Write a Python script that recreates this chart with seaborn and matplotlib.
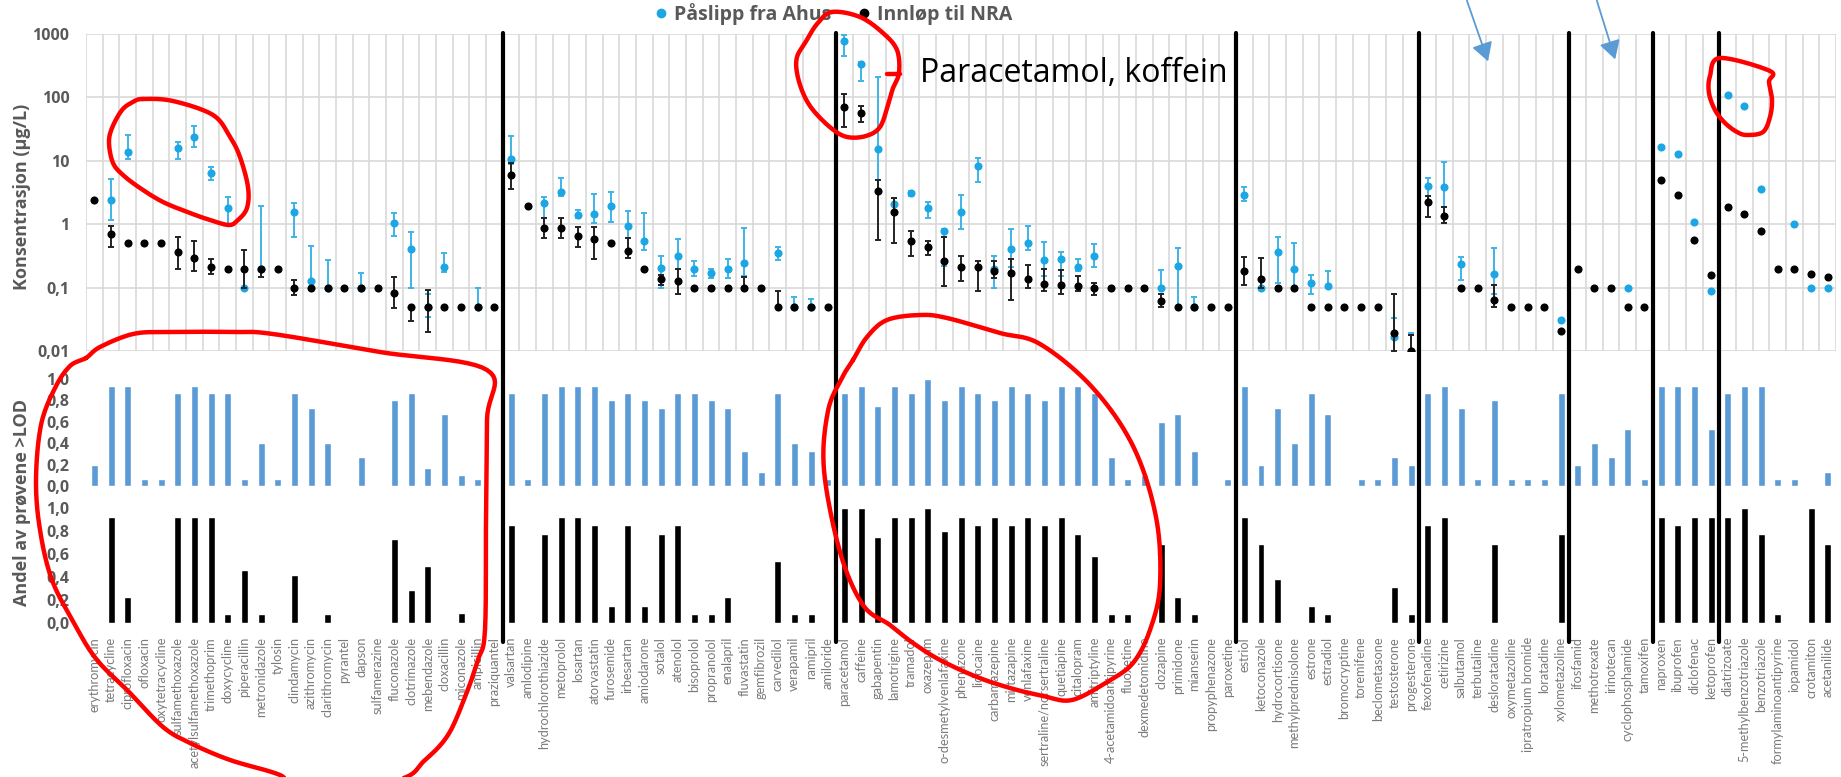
import numpy as np
import matplotlib
matplotlib.use("Agg")
import matplotlib.pyplot as plt
import seaborn as sns
from matplotlib.lines import Line2D
from matplotlib.transforms import blended_transform_factory

nan = np.nan

compounds = [
    "erythromycin", "tetracycline", "ciprofloxacin", "ofloxacin", "oxytetracycline",
    "sulfamethoxazole", "acetylsulfamethoxazole", "trimethoprim", "doxycycline", "piperacillin",
    "metronidazole", "tylosin", "clindamycin", "azithromycin", "clarithromycin", "pyrantel",
    "dapson", "sulfamerazine", "fluconazole", "clotrimazole", "mebendazole", "cloxacillin",
    "miconazole", "ampicillin", "praziquantel",
    "valsartan", "amlodipine", "hydrochlorothiazide", "metoprolol", "losartan", "atorvastatin",
    "furosemide", "irbesartan", "amiodarone", "sotalol", "atenolol", "bisoprolol", "propranolol",
    "enalapril", "fluvastatin", "gemfibrozil", "carvedilol", "verapamil", "ramipril", "amiloride",
    "paracetamol", "caffeine", "gabapentin", "lamotrigine", "tramadol", "oxazepam",
    "o-desmetylvenlafaxine", "phenazone", "lidocaine", "carbamazepine", "mirtazapine",
    "venlafaxine", "sertraline/norsertraline", "quetiapine", "citalopram", "amitriptyline",
    "4-acetamidoantipyrine", "fluoxetine", "dexmedetomidine", "clozapine", "primidone",
    "mianserin", "propyphenazone", "paroxetine",
    "estriol", "ketoconazole", "hydrocortisone", "methylprednisolone", "estrone", "estradiol",
    "bromocryptine", "toremifene", "beclometasone", "testosterone", "progesterone",
    "fexofenadine", "cetirizine", "salbutamol", "terbutaline", "desloratadine", "oxymetazoline",
    "ipratropium bromide", "loratadine", "xylometazoline",
    "ifosfamid", "methotrexate", "irinotecan", "cyclophosphamide", "tamoxifen",
    "naproxen", "ibuprofen", "diclofenac", "ketoprofen",
    "diatrizoate", "5-methylbenzotriazole", "benzotriazole", "formylaminoantipyrine",
    "iopamidol", "crotamiton", "acetanilide",
]
group_sizes = [25, 20, 24, 11, 9, 5, 4, 7]

# Påslipp fra Ahus: concentration (µg/L), lower and upper error limits
ahus_conc = [
    nan, 2.4, 13.7, nan, nan, 15.7, 23.9, 6.4, 1.77, 0.1,
    0.2, nan, 1.57, 0.127, 0.1, nan, 0.1, nan, 1.06, 0.41,
    0.05, 0.215, nan, 0.05, nan,
    10.6, nan, 2.15, 3.24, 1.39, 1.47, 1.97, 0.93, 0.54, 0.205,
    0.31, 0.197, 0.168, 0.197, 0.24, nan, 0.357, 0.05, 0.05, nan,
    766, 336, 15.5, 2.07, 3.05, 1.77, 0.77, 1.57, 8.24, 0.2,
    0.41, 0.51, 0.27, 0.28, 0.215, 0.31, nan, nan, nan, 0.1,
    0.222, 0.05, nan, nan,
    2.9, 0.1, 0.36, 0.197, 0.117, 0.107, nan, nan, nan, 0.0164, 0.01,
    3.94, 3.9, 0.233, nan, 0.164, nan, nan, nan, 0.031,
    nan, nan, nan, 0.1, nan,
    16.8, 12.7, 1.08, 0.09,
    109, 72, 3.57, nan, 0.99, 0.1, 0.1,
]
ahus_lo = [
    nan, 1.17, 10.8, nan, nan, 10.8, 16.6, 4.95, 1.0, nan,
    nan, nan, 0.62, nan, nan, nan, nan, nan, 0.65, 0.1,
    0.035, 0.175, nan, nan, nan,
    9.0, nan, 1.27, 2.74, 1.24, 1.06, 1.07, 0.6, 0.39, 0.1,
    0.2, 0.15, 0.14, 0.14, 0.15, nan, 0.27, nan, nan, nan,
    455, 179, 3.3, 1.57, 2.8, 1.27, 0.22, 0.83, 4.6, 0.1,
    0.215, 0.39, 0.15, 0.15, 0.18, 0.215, nan, nan, nan, nan,
    0.05, nan, nan, nan,
    2.3, nan, 0.12, 0.1, 0.08, nan, nan, nan, nan, nan, nan,
    2.2, 1.9, 0.13, nan, 0.08, nan, nan, nan, nan,
    nan, nan, nan, nan, nan,
    nan, nan, nan, nan,
    nan, nan, nan, nan, nan, nan, nan,
]
ahus_hi = [
    nan, 5.2, 25.8, nan, nan, 20.0, 35.7, 7.85, 2.64, nan,
    1.97, nan, 2.15, 0.46, 0.27, nan, 0.168, nan, 1.49, 0.75,
    0.08, 0.35, nan, 0.1, nan,
    24.2, nan, 2.64, 5.45, 1.69, 2.98, 3.2, 1.6, 1.49, 0.32,
    0.58, 0.26, 0.2, 0.28, 0.86, nan, 0.44, 0.07, 0.066, nan,
    980, 361, 209, 2.6, 3.3, 2.2, 0.83, 2.9, 10.9, 0.31,
    0.83, 0.95, 0.52, 0.37, 0.28, 0.48, nan, nan, nan, 0.19,
    0.42, 0.07, nan, nan,
    3.9, nan, 0.63, 0.5, 0.16, 0.18, nan, nan, nan, 0.033, 0.019,
    5.3, 9.6, 0.3, nan, 0.42, nan, nan, nan, nan,
    nan, nan, nan, nan, nan,
    nan, nan, nan, nan,
    nan, nan, nan, nan, nan, nan, nan,
]

# Innløp til NRA: concentration (µg/L), lower and upper error limits
nra_conc = [
    2.42, 0.70, 0.5, 0.5, 0.5, 0.37, 0.29, 0.21, 0.2, 0.2,
    0.2, 0.2, 0.1, 0.1, 0.1, 0.1, 0.1, 0.1, 0.081, 0.05,
    0.05, 0.05, 0.05, 0.05, 0.05,
    5.87, 1.97, 0.865, 0.86, 0.66, 0.59, 0.5, 0.38, 0.2, 0.136,
    0.126, 0.1, 0.1, 0.1, 0.1, 0.1, 0.05, 0.05, 0.05, 0.05,
    69.5, 56.6, 3.28, 1.57, 0.54, 0.43, 0.26, 0.215, 0.21, 0.18,
    0.168, 0.139, 0.116, 0.11, 0.107, 0.1, 0.1, 0.1, 0.1, 0.062,
    0.05, 0.05, 0.05, 0.05,
    0.18, 0.139, 0.1, 0.1, 0.05, 0.05, 0.05, 0.05, 0.05, 0.0195, 0.01,
    2.2, 1.37, 0.1, 0.1, 0.064, 0.05, 0.05, 0.05, 0.021,
    0.2, 0.1, 0.1, 0.05, 0.05,
    5.0, 2.94, 0.57, 0.157,
    1.85, 1.47, 0.79, 0.2, 0.2, 0.163, 0.146,
]
nra_lo = [
    nan, 0.44, nan, nan, nan, 0.197, 0.185, 0.164, nan, 0.1,
    0.146, nan, 0.077, nan, nan, nan, nan, nan, 0.048, 0.03,
    0.0197, nan, nan, nan, nan,
    3.6, nan, 0.6, 0.6, 0.44, 0.28, nan, 0.29, nan, 0.11,
    0.08, nan, nan, nan, nan, nan, nan, nan, nan, nan,
    33.6, 40.8, 0.57, 0.51, 0.32, 0.33, 0.107, 0.127, 0.088, 0.14,
    0.064, 0.1, 0.09, 0.08, 0.09, 0.077, nan, nan, nan, 0.05,
    nan, nan, nan, nan,
    0.11, 0.1, nan, nan, nan, nan, nan, nan, nan, 0.01, nan,
    1.3, 1.05, nan, nan, 0.05, nan, nan, nan, nan,
    nan, nan, nan, nan, nan,
    nan, nan, nan, nan,
    nan, nan, nan, nan, nan, nan, nan,
]
nra_hi = [
    nan, 0.95, nan, nan, nan, 0.62, 0.55, 0.28, nan, 0.39,
    nan, nan, 0.13, nan, nan, nan, nan, nan, 0.147, nan,
    0.092, nan, nan, nan, nan,
    9.2, nan, 1.24, 1.27, 0.89, 0.9, nan, 0.6, nan, 0.16,
    0.195, nan, nan, nan, 0.147, nan, 0.087, nan, nan, nan,
    113, 73.8, 5.0, 2.6, 0.77, 0.55, 0.62, 0.32, 0.26, 0.26,
    0.28, 0.23, 0.2, 0.19, 0.15, 0.12, nan, nan, nan, 0.08,
    nan, nan, nan, nan,
    0.3, 0.29, nan, nan, nan, nan, nan, nan, nan, 0.079, 0.018,
    2.8, 1.9, nan, nan, 0.11, nan, nan, nan, nan,
    nan, nan, nan, nan, nan,
    nan, nan, nan, nan,
    nan, nan, nan, nan, nan, nan, nan,
]

# Andel av prøvene > LOD
ahus_lod = [
    0.2, 0.93, 0.93, 0.07, 0.07, 0.87, 0.93, 0.87, 0.87, 0.07,
    0.4, 0.07, 0.87, 0.73, 0.4, 0.0, 0.27, 0.0, 0.8, 0.87,
    0.17, 0.67, 0.1, 0.07, 0.0,
    0.87, 0.07, 0.87, 0.93, 0.93, 0.93, 0.8, 0.87, 0.8, 0.73,
    0.87, 0.87, 0.8, 0.73, 0.33, 0.13, 0.87, 0.4, 0.33, 0.07,
    0.87, 0.93, 0.75, 0.93, 0.87, 1.0, 0.8, 0.93, 0.87, 0.8,
    0.93, 0.87, 0.8, 0.93, 0.93, 0.87, 0.27, 0.07, 0.1, 0.6,
    0.67, 0.33, 0.0, 0.07,
    0.93, 0.2, 0.73, 0.4, 0.87, 0.67, 0.0, 0.07, 0.07, 0.27, 0.2,
    0.87, 0.93, 0.73, 0.07, 0.8, 0.07, 0.07, 0.07, 0.87,
    0.2, 0.4, 0.27, 0.53, 0.07,
    0.93, 0.93, 0.93, 0.53,
    0.87, 0.93, 0.93, 0.07, 0.07, 0.0, 0.13,
]
nra_lod = [
    0.0, 0.92, 0.23, 0.0, 0.0, 0.92, 0.92, 0.92, 0.08, 0.46,
    0.08, 0.0, 0.42, 0.0, 0.08, 0.0, 0.0, 0.0, 0.73, 0.29,
    0.5, 0.0, 0.09, 0.0, 0.0,
    0.85, 0.0, 0.77, 0.92, 0.92, 0.85, 0.15, 0.85, 0.15, 0.77,
    0.85, 0.08, 0.08, 0.23, 0.0, 0.0, 0.54, 0.08, 0.08, 0.0,
    1.0, 1.0, 0.75, 0.92, 0.92, 1.0, 0.8, 0.92, 0.85, 0.92,
    0.85, 0.92, 0.85, 0.92, 0.77, 0.58, 0.08, 0.08, 0.0, 0.69,
    0.23, 0.08, 0.0, 0.0,
    0.92, 0.69, 0.38, 0.0, 0.15, 0.08, 0.0, 0.0, 0.0, 0.31, 0.08,
    0.85, 0.92, 0.0, 0.0, 0.69, 0.0, 0.0, 0.0, 0.77,
    0.0, 0.0, 0.0, 0.0, 0.0,
    0.92, 0.85, 0.92, 0.92,
    0.92, 1.0, 0.77, 0.08, 0.0, 1.0, 0.69,
]

conc_ticks = [0.01, 0.1, 1, 10, 100, 1000]
conc_tick_labels = ["0,01", "0,1", "1", "10", "100", "1000"]
lod_ticks = [0.0, 0.2, 0.4, 0.6, 0.8, 1.0]
lod_tick_labels = ["0,0", "0,2", "0,4", "0,6", "0,8", "1,0"]
series_names = ["Påslipp fra Ahus", "Innløp til NRA"]
note_text = "Paracetamol, koffein"

# ------------------------------------------------------------------ style
sns.set_theme(style="white")
plt.rcParams["font.family"] = ["Open Sans", "DejaVu Sans"]

W, H = 1841, 777
fig = plt.figure(figsize=(W / 100, H / 100), dpi=100)

def fx(px):
    return np.asarray(px) / W

def fy(py):
    return 1 - np.asarray(py) / H

BLUE_PT = "#1CA6E4"
BLUE_BAR = "#5B9BD5"
GRAY = "#595959"
LABEL_GRAY = "#7A7A7A"

left, right = 86, 1836
ax_top = fig.add_axes([fx(left), fy(351), fx(right - left), (351 - 34) / H])
ax_mid = fig.add_axes([fx(left), fy(486), fx(right - left), (486 - 379) / H])
ax_bot = fig.add_axes([fx(left), fy(623), fx(right - left), (623 - 508) / H])

n = len(compounds)
pos = np.arange(n)

def arr(a):
    return np.array(a, dtype=float)

def errs(c, lo, hi):
    c, lo, hi = arr(c), arr(lo), arr(hi)
    lo = np.where(np.isnan(lo), c, lo)
    hi = np.where(np.isnan(hi), c, hi)
    low = np.nan_to_num(c - lo)
    up = np.nan_to_num(hi - c)
    return np.vstack([np.clip(low, 0, None), np.clip(up, 0, None)])

# --------------------------------------------------------------- top panel
ax_top.set_yscale("log")
ax_top.set_ylim(0.01, 1000)
ax_top.set_xlim(-0.5, n - 0.5)

ac = arr(ahus_conc)
nc = arr(nra_conc)
m_a = ~np.isnan(ac)
m_n = ~np.isnan(nc)
ea = errs(ahus_conc, ahus_lo, ahus_hi)
en = errs(nra_conc, nra_lo, nra_hi)

ax_top.errorbar(pos[m_a], ac[m_a], yerr=ea[:, m_a], fmt="none", ecolor="#3DB4E8",
                elinewidth=1.4, capsize=2.5, capthick=1.4, zorder=3)
sns.scatterplot(x=pos[m_a], y=ac[m_a], color=BLUE_PT, s=34, linewidth=0, ax=ax_top,
                zorder=4, legend=False)
ax_top.errorbar(pos[m_n], nc[m_n], yerr=en[:, m_n], fmt="none", ecolor="#222222",
                elinewidth=1.4, capsize=2.5, capthick=1.4, zorder=5)
sns.scatterplot(x=pos[m_n], y=nc[m_n], color="black", s=34, linewidth=0, ax=ax_top,
                zorder=6, legend=False)

ax_top.set_yticks(conc_ticks)
ax_top.set_yticklabels(conc_tick_labels)
ax_top.yaxis.set_minor_locator(matplotlib.ticker.NullLocator())
ax_top.set_xticks(np.arange(-0.5, n, 1.0), minor=True)
ax_top.set_xticks([])
ax_top.grid(True, which="major", axis="y", color="#D9D9D9", lw=1.2)
ax_top.grid(True, which="minor", axis="x", color="#D9D9D9", lw=1.2)
ax_top.tick_params(axis="x", which="both", length=0, labelbottom=False)
for s in ax_top.spines.values():
    s.set_visible(False)
ax_top.set_axisbelow(True)

# --------------------------------------------------------------- bar panels
sns.barplot(x=compounds, y=ahus_lod, order=compounds, color=BLUE_BAR, saturation=1,
            width=0.42, errorbar=None, ax=ax_mid)
sns.barplot(x=compounds, y=nra_lod, order=compounds, color="black", saturation=1,
            width=0.42, errorbar=None, ax=ax_bot)
for ax in (ax_mid, ax_bot):
    ax.set_xlim(-0.5, n - 0.5)
    ax.set_ylim(0, 1.0)
    ax.set_yticks(lod_ticks)
    ax.set_yticklabels(lod_tick_labels)
    ax.set_xlabel("")
    ax.set_ylabel("")
    for s in ax.spines.values():
        s.set_visible(False)
ax_mid.tick_params(axis="x", length=0, labelbottom=False)
ax_bot.tick_params(axis="x", length=0, pad=10)
ax_bot.set_xticks(pos)
ax_bot.set_xticklabels(compounds, rotation=90, fontsize=9.2, color=LABEL_GRAY,
                       family=["Lato", "DejaVu Sans"])

for ax in (ax_top, ax_mid, ax_bot):
    ax.tick_params(axis="y", length=0, pad=12, labelsize=11.5, labelcolor=GRAY)
    for t in ax.get_yticklabels():
        t.set_fontweight("bold")

# axis titles
fig.text(fx(22), fy(197), "Konsentrasjon (µg/L)", rotation=90, ha="center", va="center",
         fontsize=13, fontweight="bold", color=GRAY)
fig.text(fx(22), fy(502), "Andel av prøvene >LOD", rotation=90, ha="center", va="center",
         fontsize=13, fontweight="bold", color=GRAY)

# group separators spanning all panels
trans = blended_transform_factory(ax_top.transData, fig.transFigure)
edges = np.cumsum(group_sizes)[:-1] - 0.5
for e in edges:
    fig.add_artist(Line2D([e, e], [fy(33), fy(642)], transform=trans, color="black",
                          lw=3.0, zorder=10))

# legend
handles = [
    Line2D([], [], marker="o", ls="none", color=BLUE_PT, markersize=6),
    Line2D([], [], marker="o", ls="none", color="black", markersize=6),
]
leg = fig.legend(handles, series_names, loc="center", bbox_to_anchor=(fx(832), fy(14)),
                 ncol=2, frameon=False, fontsize=14, handletextpad=0.15,
                 columnspacing=1.2, handlelength=1.0)
for t in leg.get_texts():
    t.set_fontweight("bold")
    t.set_color(GRAY)

# ------------------------------------------------------------ annotations
fig.text(fx(920), fy(74), note_text, ha="left", va="center", fontsize=23,
         color="black", family=["Open Sans", "DejaVu Sans"])

def smooth(points, closed=True, k=12):
    p = np.array(points, dtype=float)
    if closed:
        p = np.vstack([p[-1], p, p[0], p[1]])
    else:
        p = np.vstack([p[0], p, p[-1]])
    out = []
    for i in range(1, len(p) - 2):
        p0, p1, p2, p3 = p[i - 1], p[i], p[i + 1], p[i + 2]
        for t in np.linspace(0, 1, k, endpoint=False):
            t2, t3 = t * t, t * t * t
            out.append(0.5 * ((2 * p1) + (-p0 + p2) * t + (2 * p0 - 5 * p1 + 4 * p2 - p3) * t2
                              + (-p0 + 3 * p1 - 3 * p2 + p3) * t3))
    out.append(p[-2])
    return np.array(out)

def red_path(points, closed=True):
    q = smooth(points, closed)
    fig.add_artist(Line2D(fx(q[:, 0]), fy(q[:, 1]), transform=fig.transFigure,
                          color="#FF0000", lw=3.2, solid_capstyle="round",
                          solid_joinstyle="round", zorder=20, clip_on=False))

red_path([(143, 99), (173, 101), (213, 115), (230, 137), (240, 157), (248, 187),
          (247, 208), (238, 220), (229, 225), (210, 220), (190, 213), (163, 202),
          (140, 188), (123, 175), (113, 163), (109, 143), (112, 128), (122, 110),
          (133, 102)])
red_path([(832, 12), (860, 17), (883, 33), (897, 50), (899, 73), (893, 88), (888, 105),
          (880, 127), (866, 136), (847, 137), (831, 128), (813, 110), (803, 93),
          (797, 73), (797, 57), (805, 43), (817, 24)])
red_path([(887, 74), (900, 74)], closed=False)
red_path([(1720, 58), (1770, 71), (1769, 82), (1772, 100), (1770, 117), (1763, 132),
          (1747, 135), (1737, 132), (1725, 123), (1715, 110), (1709, 93), (1710, 76)])
red_path([(86, 358), (100, 347), (133, 334), (167, 332), (233, 332), (273, 334),
          (380, 352), (487, 370), (487, 420), (486, 520), (485, 630), (478, 660),
          (465, 697), (448, 735), (425, 760), (397, 780), (300, 790), (280, 775),
          (230, 760), (190, 743), (163, 727), (130, 693), (97, 660), (75, 625),
          (52, 580), (40, 530), (36, 480), (41, 425), (55, 388), (70, 366)])
red_path([(853, 360), (867, 337), (887, 320), (920, 315), (947, 318), (1000, 333),
          (1040, 344), (1092, 387), (1133, 446), (1156, 517), (1160, 585), (1150, 630),
          (1133, 663), (1107, 682), (1072, 700), (1043, 696), (1010, 688), (977, 677),
          (940, 660), (913, 643), (890, 625), (863, 605), (840, 552), (824, 470),
          (828, 411), (842, 378)])

for (x0, y0, x1, y1) in [(1466, -2, 1489, 64), (1596, -2, 1616, 62)]:
    fig.add_artist(matplotlib.patches.FancyArrowPatch(
        (fx(x0), fy(y0)), (fx(x1), fy(y1)), transform=fig.transFigure,
        arrowstyle="-|>,head_length=7,head_width=4", color=BLUE_BAR, lw=1.3,
        mutation_scale=1.6, zorder=20, clip_on=False))

fig.savefig("out.png", dpi=100)
